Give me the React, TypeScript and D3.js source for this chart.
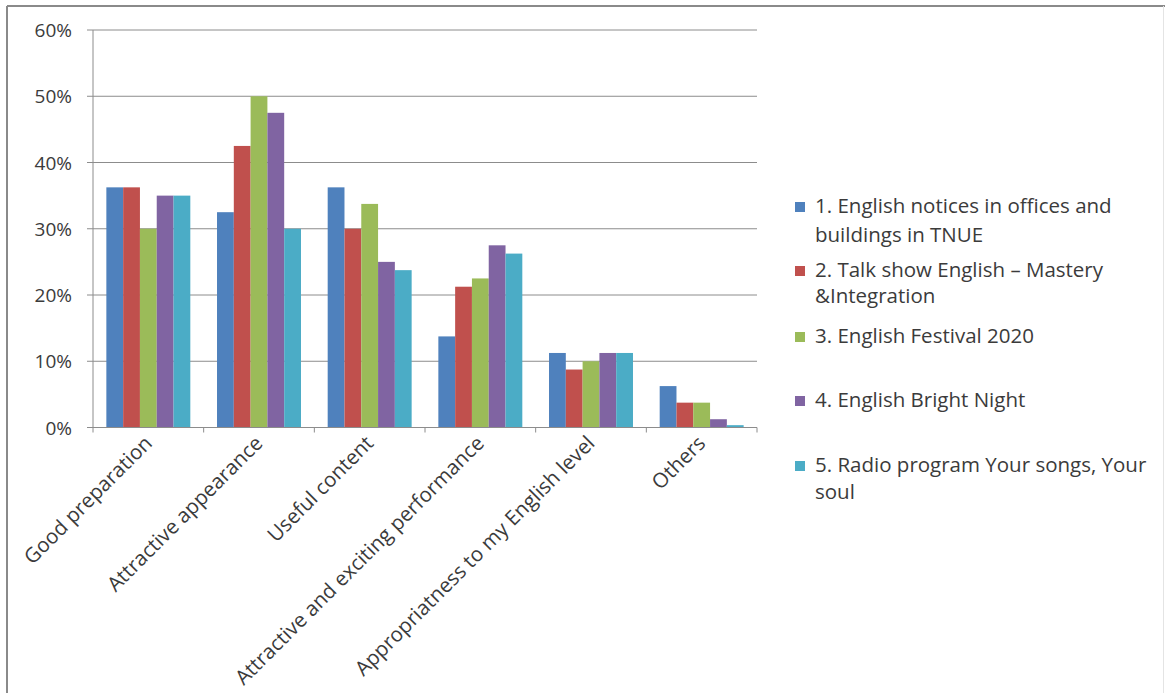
import React from "react";
import * as d3 from "d3";

const categories = [
  "Good preparation",
  "Attractive appearance",
  "Useful content",
  "Attractive and exciting performance",
  "Appropriatness to my English level",
  "Others",
];

const seriesNames = [
  ["1. English notices in offices and", "buildings in TNUE"],
  ["2. Talk show English – Mastery", "&Integration"],
  ["3. English Festival 2020"],
  ["4. English Bright Night"],
  ["5. Radio program Your songs, Your", "soul"],
];

const s1 = [36.25, 32.5, 36.25, 13.75, 11.25, 6.25];
const s2 = [36.25, 42.5, 30, 21.25, 8.75, 3.75];
const s3 = [30, 50, 33.75, 22.5, 10, 3.75];
const s4 = [35, 47.5, 25, 27.5, 11.25, 1.25];
const s5 = [35, 30, 23.75, 26.25, 11.25, 0.35];
const seriesValues = [s1, s2, s3, s4, s5];

const colors = ["#4F81BD", "#C0504D", "#9BBB59", "#8064A2", "#4BACC6"];
const yTicks = [0, 10, 20, 30, 40, 50, 60];

const FONT = "'Open Sans', Lato, sans-serif";
const TXT = "#3b3b3b";

export default function App() {
  const left = 93, right = 757, top = 30, bottom = 427.5;
  const x0 = d3.scaleBand<string>().domain(categories).range([left, right]).paddingInner(0).paddingOuter(0);
  const x1 = d3
    .scaleBand<number>()
    .domain(d3.range(seriesValues.length))
    .range([0, x0.bandwidth()])
    .paddingInner(0)
    .paddingOuter(0.795);
  const y = d3.scaleLinear().domain([0, 60]).range([bottom, top]);

  const legendY = [
    [213, 242],
    [277, 303],
    [343],
    [407],
    [472, 499],
  ];

  return (
    <svg
      width={1165}
      height={693}
      style={{ position: "absolute", left: 0, top: 0, background: "#fff" }}
      fontFamily={FONT}
    >
      {/* outer border */}
      <line x1={7} y1={6} x2={1165} y2={6} stroke="#8a8a8a" strokeWidth={2} />
      <line x1={7} y1={6} x2={7} y2={693} stroke="#8a8a8a" strokeWidth={2} />
      <line x1={1163.5} y1={6} x2={1163.5} y2={693} stroke="#e4e4e4" strokeWidth={1} />

      {/* gridlines */}
      {yTicks.map((t) => (
        <line key={"g" + t} x1={left - 6} x2={right} y1={y(t)} y2={y(t)} stroke="#8c8c8c" strokeWidth={1} />
      ))}
      {/* y axis */}
      <line x1={left} x2={left} y1={top} y2={bottom} stroke="#8c8c8c" strokeWidth={1} />
      {yTicks.map((t) => (
        <text
          key={"yl" + t}
          x={72}
          y={y(t) + 7}
          textAnchor="end"
          fontSize={19}
          fill={TXT}
        >
          {t + "%"}
        </text>
      ))}

      {/* bars */}
      {categories.map((c, ci) => (
        <g key={c} transform={`translate(${x0(c)},0)`}>
          {seriesValues.map((vals, si) => (
            <rect
              key={si}
              x={x1(si)}
              width={x1.bandwidth()}
              y={y(vals[ci])}
              height={y(0) - y(vals[ci])}
              fill={colors[si]}
            />
          ))}
        </g>
      ))}

      {/* x axis */}
      <line x1={left} x2={right} y1={bottom} y2={bottom} stroke="#8c8c8c" strokeWidth={1} />
      {categories.map((c) => (
        <line key={"t" + c} x1={(x0(c) as number)} x2={(x0(c) as number)} y1={bottom} y2={bottom + 5} stroke="#8c8c8c" />
      ))}
      <line x1={right} x2={right} y1={bottom} y2={bottom + 5} stroke="#8c8c8c" />

      {/* category labels */}
      {categories.map((c) => {
        const cx = (x0(c) as number) + x0.bandwidth() / 2 + 5;
        const cy = bottom + 17;
        return (
          <text
            key={"cl" + c}
            transform={`translate(${cx},${cy}) rotate(-45)`}
            textAnchor="end"
            fontSize={20.5}
            fill={TXT}
          >
            {c}
          </text>
        );
      })}

      {/* legend */}
      {seriesNames.map((lines, i) => (
        <g key={"lg" + i}>
          <rect x={795} y={legendY[i][0] - 11} width={10} height={10} fill={colors[i]} />
          <text x={815} y={legendY[i][0]} fontSize={20.5} fill={TXT}>
            {lines.map((ln, li) => (
              <tspan key={li} x={815} y={legendY[i][li]}>
                {ln}
              </tspan>
            ))}
          </text>
        </g>
      ))}
    </svg>
  );
}
